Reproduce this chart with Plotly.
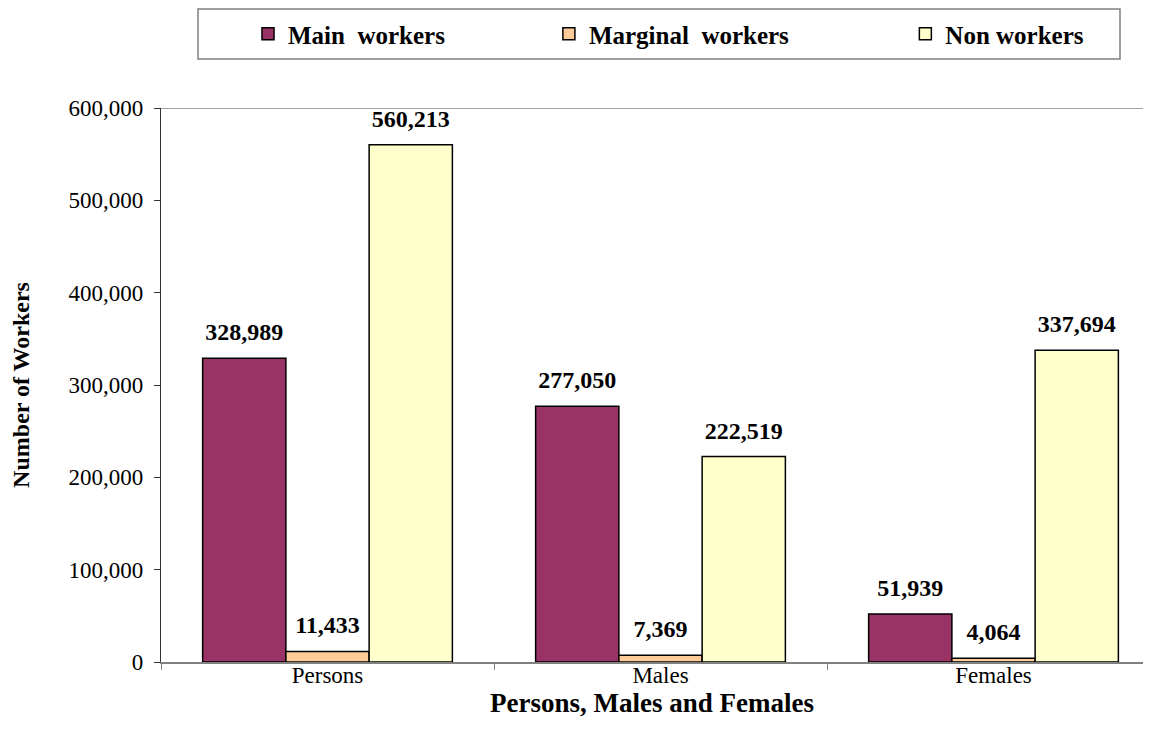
import plotly.graph_objects as go

# categorias e séries
categorias = ["Persons", "Males", "Females"]
main_workers = [328989, 277050, 51939]
marginal_workers = [11433, 7369, 4064]
non_workers = [560213, 222519, 337694]

nomes = ["Main  workers", "Marginal  workers", "Non workers"]
cores = ["#993366", "#FFCC99", "#FFFFCC"]
legendas = ["legend", "legend2", "legend3"]
legenda_x = [0.0886, 0.395, 0.758]

FONTE = "Times New Roman, Liberation Serif, serif"

# a página tem margem de 8px no body
LARG, ALT = 1135, 724
M_ESQ, M_DIR, M_TOPO, M_BAIXO = 153, 0, 100, 70
larg_plot = LARG - M_ESQ - M_DIR
alt_plot = ALT - M_TOPO - M_BAIXO

fig = go.Figure()
for nome, valores, cor, lg in zip(nomes, [main_workers, marginal_workers, non_workers], cores, legendas):
    fig.add_trace(go.Bar(
        x=categorias,
        y=valores,
        name="<b>" + nome + "</b>",
        legend=lg,
        marker=dict(color=cor, line=dict(color="black", width=1.5)),
        text=[f"<span style='font-size:24px'><b>{v:,}</b></span><br> " for v in valores],
        textposition="outside",
        constraintext="none",
        textfont=dict(family=FONTE, size=10, color="black"),
        cliponaxis=False,
    ))

# uma legenda por série, para posicionar como no original
leg_cfg = {}
for lg, lx in zip(legendas, legenda_x):
    leg_cfg[lg] = dict(
        orientation="h",
        x=lx, xanchor="left",
        y=1 + (M_TOPO - 26) / alt_plot, yanchor="middle",
        font=dict(family=FONTE, size=25, color="black"),
        bgcolor="rgba(0,0,0,0)",
        borderwidth=0,
    )

fig.update_layout(
    width=LARG,
    height=ALT,
    barmode="group",
    bargap=0.25,
    bargroupgap=0,
    plot_bgcolor="white",
    paper_bgcolor="white",
    font=dict(family=FONTE, size=22, color="black"),
    margin=dict(l=M_ESQ, r=M_DIR, t=M_TOPO, b=M_BAIXO, autoexpand=False),
    showlegend=True,
    **leg_cfg,
)

# caixa da legenda
fig.add_shape(type="rect", xref="paper", yref="paper",
              x0=(198 - 161) / larg_plot, x1=(1120 - 161) / larg_plot,
              y0=1 + (M_TOPO - 51) / alt_plot, y1=1 + (M_TOPO - 1) / alt_plot,
              line=dict(color="#808080", width=1.5), fillcolor="rgba(0,0,0,0)", layer="below")

# linha superior em 600,000
fig.add_shape(type="line", xref="paper", yref="y", x0=0, x1=1, y0=600000, y1=600000,
              line=dict(color="#808080", width=1.5))

fig.update_yaxes(
    range=[0, 600000],
    dtick=100000,
    tickformat=",",
    showgrid=False,
    zeroline=False,
    showline=True,
    linecolor="#333333",
    linewidth=1.2,
    ticks="outside",
    ticklen=6,
    tickcolor="#333333",
    ticklabelstandoff=6,
    tickfont=dict(family=FONTE, size=23),
    title=dict(text="<b>Number of Workers</b>", font=dict(family=FONTE, size=24), standoff=32),
)
fig.update_xaxes(
    range=[-0.5, -0.5 + larg_plot / 333],
    showgrid=False,
    showline=True,
    linecolor="#808080",
    linewidth=1.5,
    ticks="outside",
    tickson="boundaries",
    ticklen=6,
    tickcolor="#808080",
    ticklabelstandoff=-8,
    tickfont=dict(family=FONTE, size=23),
    title=dict(text="<b>Persons, Males and Females</b>", font=dict(family=FONTE, size=27), standoff=0),
)

fig.write_html("out.html")
